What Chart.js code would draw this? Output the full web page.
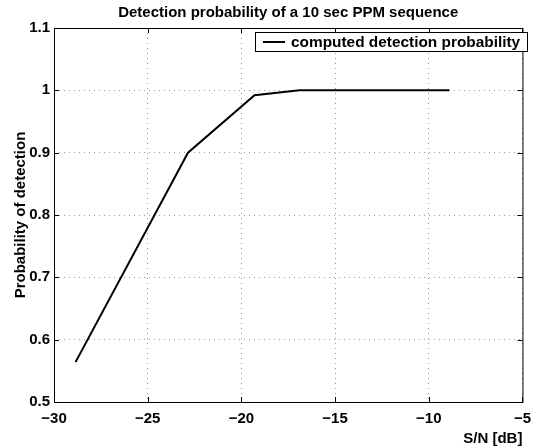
<!DOCTYPE html>
<html>
<head>
<meta charset="utf-8">
<script src="https://cdn.jsdelivr.net/npm/chart.js@4.4.0/dist/chart.umd.min.js"></script>
<style>
  html, body { margin: 0; padding: 0; background: #fff; }
  canvas { display: block; }
</style>
</head>
<body>
<canvas id="chart" width="539" height="448"></canvas>
<script>
// values
const snrDb = [-28.85, -22.85, -19.3, -16.9, -8.9];
const detectionProb = [0.564, 0.9, 0.992, 1.0, 1.0];
const xTicks = [-30, -25, -20, -15, -10, -5];
const yTicks = [0.5, 0.6, 0.7, 0.8, 0.9, 1.0, 1.1];
const seriesLabel = "computed detection probability";

const FONT = "'Liberation Sans', Arial, Helvetica, sans-serif";

const fmtX = v => (v < 0 ? "\u2212" + Math.abs(v) : String(v));
const fmtY = v => String(Math.round(v * 10) / 10);

// box, inward ticks on every side, boxed legend
const matlabFrame = {
    id: "matlabFrame",
    afterDatasetsDraw(chart) {
        const { ctx, chartArea: a, scales: { x, y } } = chart;
        ctx.save();
        ctx.strokeStyle = "#000";
        ctx.lineWidth = 1;
        ctx.strokeRect(a.left + 0.5, a.top + 0.5, a.right - a.left, a.bottom - a.top);

        ctx.beginPath();
        xTicks.forEach(v => {
            const px = Math.round(x.getPixelForValue(v)) + 0.5;
            ctx.moveTo(px, a.bottom); ctx.lineTo(px, a.bottom - 5);
            ctx.moveTo(px, a.top); ctx.lineTo(px, a.top + 5);
        });
        yTicks.forEach(v => {
            const py = Math.round(y.getPixelForValue(v)) + 0.5;
            ctx.moveTo(a.left, py); ctx.lineTo(a.left + 5, py);
            ctx.moveTo(a.right, py); ctx.lineTo(a.right - 5, py);
        });
        ctx.stroke();

        // legend
        const bx = 255.5, by = 32.5, bw = 272, bh = 19;
        ctx.fillStyle = "#fff";
        ctx.fillRect(bx, by, bw, bh);
        ctx.strokeRect(bx, by, bw, bh);
        ctx.lineWidth = 2;
        ctx.beginPath();
        ctx.moveTo(263, by + bh / 2);
        ctx.lineTo(285, by + bh / 2);
        ctx.stroke();
        ctx.fillStyle = "#000";
        ctx.font = "bold 15.4px " + FONT;
        ctx.textBaseline = "middle";
        ctx.textAlign = "left";
        ctx.fillText(chart.data.datasets[0].label, 291, by + bh / 2 + 1);
        ctx.restore();
    }
};

new Chart(document.getElementById("chart"), {
    type: "line",
    data: {
        datasets: [{
            label: seriesLabel,
            data: snrDb.map((s, i) => ({ x: s, y: detectionProb[i] })),
            borderColor: "#000",
            borderWidth: 2,
            pointRadius: 0,
            fill: false,
            tension: 0,
        }]
    },
    options: {
        responsive: false,
        animation: false,
        layout: { padding: { left: 0, right: 9, top: 0, bottom: 0 } },
        plugins: {
            legend: { display: false },
            tooltip: { enabled: false },
            title: {
                display: true,
                text: "Detection probability of a 10 sec PPM sequence",
                color: "#000",
                fullSize: false,
                font: { family: FONT, size: 15, weight: "bold", lineHeight: 1.2 },
                padding: { top: 3.5, bottom: 6.5 }
            }
        },
        scales: {
            x: {
                type: "linear",
                min: -30,
                max: -5,
                afterBuildTicks: s => { s.ticks = xTicks.map(v => ({ value: v })); },
                afterFit: s => { s.height = 46; },
                grid: { color: "#999", drawTicks: false, lineWidth: 1 },
                border: { display: false, dash: [1, 4] },
                ticks: {
                    color: "#000",
                    padding: 8,
                    maxRotation: 0,
                    font: { family: FONT, size: 15, weight: "bold" },
                    callback: v => fmtX(v)
                },
                title: {
                    display: true,
                    text: "S/N [dB]",
                    align: "end",
                    color: "#000",
                    font: { family: FONT, size: 15, weight: "bold", lineHeight: 1.2 },
                    padding: { top: 0, bottom: 0 }
                }
            },
            y: {
                min: 0.5,
                max: 1.1,
                afterBuildTicks: s => { s.ticks = yTicks.map(v => ({ value: v })); },
                afterFit: s => { s.width = 54; },
                grid: { color: "#999", drawTicks: false, lineWidth: 1 },
                border: { display: false, dash: [1, 4] },
                ticks: {
                    color: "#000",
                    padding: 4,
                    font: { family: FONT, size: 15, weight: "bold" },
                    callback: v => fmtY(v)
                },
                title: {
                    display: true,
                    text: "Probability of detection",
                    color: "#000",
                    font: { family: FONT, size: 15, weight: "bold", lineHeight: 1.2 },
                    padding: { top: 12, bottom: 0 }
                }
            }
        }
    },
    plugins: [matlabFrame]
});
</script>
</body>
</html>
